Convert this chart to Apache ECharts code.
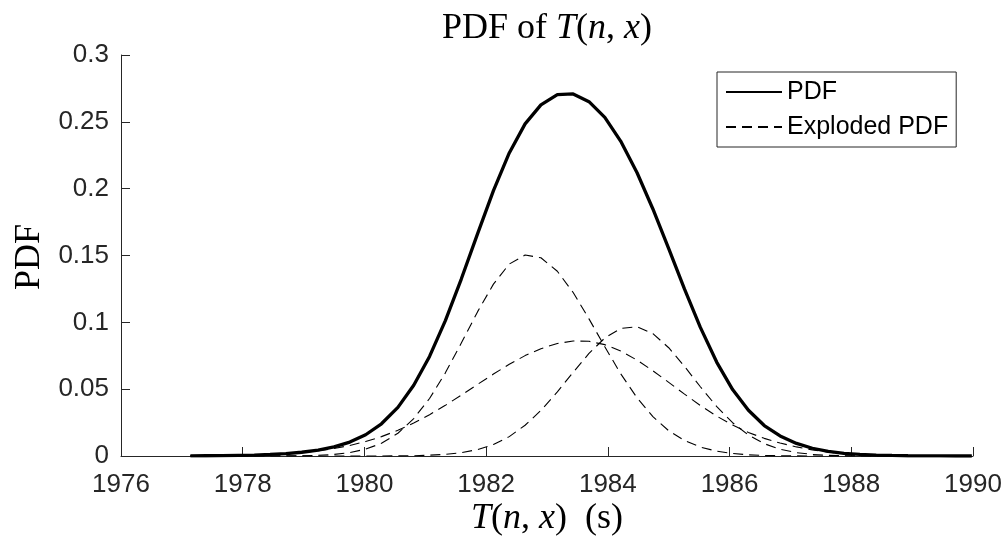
<!DOCTYPE html>
<html>
<head>
<meta charset="utf-8">
<script src="https://cdn.jsdelivr.net/npm/echarts@6/dist/echarts.min.js"></script>
<style>html,body{margin:0;padding:0;background:#fff}#c{width:1008px;height:541px}</style>
</head>
<body>
<div id="c"></div>
<script>
// sample positions T(n,x) in seconds
const xValues = [1977.14,1977.40,1977.66,1977.93,1978.19,1978.45,1978.71,1978.97,1979.24,1979.50,
  1979.76,1980.02,1980.28,1980.55,1980.81,1981.07,1981.33,1981.59,1981.86,1982.12,
  1982.38,1982.64,1982.90,1983.17,1983.43,1983.69,1983.95,1984.21,1984.48,1984.74,
  1985.00,1985.26,1985.52,1985.79,1986.05,1986.31,1986.57,1986.83,1987.10,1987.36,
  1987.62,1987.88,1988.14,1988.41,1988.67,1988.93,1989.19,1989.45,1989.72,1989.98];
// total PDF (thick solid)
const pdfTotal = [0.0001,0.0002,0.0003,0.0005,0.0007,0.0012,0.0018,0.0028,0.0044,0.0068,
  0.0104,0.0159,0.0241,0.0364,0.0529,0.0745,0.1013,0.1322,0.1664,0.1985,
  0.2267,0.2485,0.2627,0.2704,0.2709,0.2651,0.2533,0.2356,0.2119,0.1848,
  0.1551,0.1248,0.0962,0.0701,0.0497,0.0342,0.0228,0.0150,0.0094,0.0058,
  0.0034,0.0020,0.0012,0.0007,0.0004,0.0002,0.0001,0.0001,0.0000,0.0000];
// exploded components (dashed)
const exploded1 = [0,0,0,0,0,0,0.0001,0.0002,0.0005,0.0012,
  0.0026,0.0051,0.0095,0.0170,0.0280,0.0430,0.0622,0.0843,0.1080,0.1286,
  0.1436,0.1504,0.1483,0.1382,0.1223,0.1026,0.0817,0.0616,0.0435,0.0295,
  0.0189,0.0115,0.0067,0.0036,0.0019,0.0009,0.0004,0.0002,0.0001,0,
  0,0,0,0,0,0,0,0,0,0];
const exploded2 = [0.0001,0.0002,0.0003,0.0005,0.0007,0.0011,0.0017,0.0026,0.0039,0.0056,
  0.0079,0.0108,0.0145,0.0192,0.0247,0.0309,0.0379,0.0455,0.0536,0.0613,
  0.0686,0.0751,0.0803,0.0842,0.0860,0.0858,0.0833,0.0786,0.0717,0.0638,
  0.0551,0.0463,0.0378,0.0298,0.0231,0.0176,0.0132,0.0097,0.0068,0.0046,
  0.0029,0.0018,0.0011,0.0007,0.0004,0.0002,0.0001,0.0001,0,0];
const exploded3 = [0,0,0,0,0,0,0,0,0,0,
  0,0,0,0.0001,0.0002,0.0006,0.0012,0.0025,0.0048,0.0086,
  0.0145,0.0230,0.0341,0.0480,0.0626,0.0767,0.0883,0.0954,0.0967,0.0916,
  0.0810,0.0670,0.0518,0.0369,0.0249,0.0157,0.0092,0.0051,0.0025,0.0012,
  0.0005,0.0002,0.0001,0,0,0,0,0,0,0];
const xTickLabels = ['1976','1978','1980','1982','1984','1986','1988','1990'];
const yTickLabels = ['0','0.05','0.1','0.15','0.2','0.25','0.3'];
const seriesNames = ['PDF', 'Exploded PDF'];

const pairs = arr => xValues.map((x, i) => [x, arr[i]]);
const axisColor = '#262626';
const sans = 'Liberation Sans, Arial, Helvetica, sans-serif';
const serif = 'Liberation Serif, Times New Roman, serif';
const serifSize = 36;

const chart = echarts.init(document.getElementById('c'), null, {renderer: 'canvas'});
const dashed = (data) => ({
  name: seriesNames[1], type: 'line', data: pairs(data), symbol: 'none', showSymbol: false,
  lineStyle: {color: '#000', width: 1.1, type: [10, 6]}, itemStyle: {color: '#000'}, z: 2
});
const mathRich = {
  r: {fontFamily: serif, fontSize: serifSize, color: '#000'},
  i: {fontFamily: serif, fontSize: serifSize, fontStyle: 'italic', color: '#000'}
};
chart.setOption({
  animation: false,
  backgroundColor: '#fff',
  grid: {left: 121, right: 35, top: 55, bottom: 85},
  xAxis: {
    type: 'value', min: 1976, max: 1990, interval: 2,
    axisLine: {show: true, onZero: false, lineStyle: {color: axisColor, width: 1}},
    axisTick: {show: true, inside: true, length: 9, lineStyle: {color: axisColor, width: 1}},
    axisLabel: {
      formatter: v => xTickLabels[Math.round((v - 1976) / 2)] || '',
      color: axisColor, fontSize: 26, fontFamily: sans, margin: 16
    },
    splitLine: {show: false}
  },
  yAxis: {
    type: 'value', min: 0, max: 0.3, interval: 0.05,
    axisLine: {show: true, onZero: false, lineStyle: {color: axisColor, width: 1}},
    axisTick: {show: true, inside: true, length: 9, lineStyle: {color: axisColor, width: 1}},
    axisLabel: {
      formatter: v => yTickLabels[Math.round(v / 0.05)] || '',
      color: axisColor, fontSize: 26, fontFamily: sans, margin: 12
    },
    splitLine: {show: false}
  },
  legend: {
    data: seriesNames,
    orient: 'vertical', left: 717, top: 72,
    backgroundColor: '#fff', borderColor: axisColor, borderWidth: 1, borderRadius: 0,
    padding: [7, 8, 7, 8], itemGap: 9, itemWidth: 56, itemHeight: 14,
    itemStyle: {color: 'rgba(0,0,0,0)', borderWidth: 0, opacity: 0},
    textStyle: {fontFamily: sans, fontSize: 25, color: '#000', lineHeight: 26},
    selectedMode: false
  },
  series: [
    {name: seriesNames[0], type: 'line', data: pairs(pdfTotal), symbol: 'none', showSymbol: false,
     lineStyle: {color: '#000', width: 3.3}, itemStyle: {color: '#000'}, z: 3},
    dashed(exploded1), dashed(exploded2), dashed(exploded3)
  ],
  graphic: [
    {type: 'text', x: 547, y: 29, style: {text: '{r|PDF of }{i|T}{r|(}{i|n}{r|, }{i|x}{r|)}', rich: mathRich,
      align: 'center', verticalAlign: 'middle', textAlign: 'center', textVerticalAlign: 'middle'}},
    {type: 'text', x: 547, y: 519, style: {text: '{i|T}{r|(}{i|n}{r|, }{i|x}{r|)  (s)}', rich: mathRich,
      align: 'center', verticalAlign: 'middle', textAlign: 'center', textVerticalAlign: 'middle'}},
    {type: 'text', x: 30, y: 257, rotation: Math.PI / 2,
      style: {text: 'PDF', font: serifSize + 'px ' + serif, fill: '#000',
      align: 'center', verticalAlign: 'middle', textAlign: 'center', textVerticalAlign: 'middle'}}
  ]
});
</script>
</body>
</html>
